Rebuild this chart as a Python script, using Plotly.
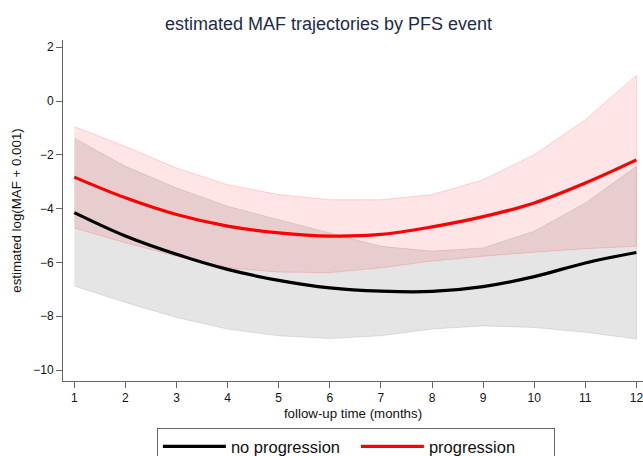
import plotly.graph_objects as go

months = [1, 2, 3, 4, 5, 6, 7, 8, 9, 10, 11, 12]

# no progression (PFS event = 0)
noprog_est = [-4.15, -5.02, -5.70, -6.26, -6.67, -6.95, -7.07, -7.08, -6.90, -6.53, -6.02, -5.63]
noprog_lo = [-6.88, -7.49, -8.05, -8.48, -8.73, -8.83, -8.73, -8.48, -8.36, -8.42, -8.60, -8.85]
noprog_hi = [-1.38, -2.43, -3.23, -3.91, -4.41, -4.90, -5.40, -5.58, -5.46, -4.84, -3.79, -2.43]

# progression (PFS event = 1)
prog_est = [-2.83, -3.60, -4.22, -4.65, -4.90, -5.02, -4.96, -4.68, -4.30, -3.79, -3.05, -2.19]
prog_lo = [-4.72, -5.27, -5.77, -6.20, -6.36, -6.38, -6.20, -5.95, -5.77, -5.62, -5.49, -5.40]
prog_hi = [-0.95, -1.69, -2.49, -3.11, -3.48, -3.67, -3.67, -3.48, -2.93, -2.00, -0.70, 0.96]

x_ticks = [1, 2, 3, 4, 5, 6, 7, 8, 9, 10, 11, 12]
y_ticks = [2, 0, -2, -4, -6, -8, -10]

FONT = "Liberation Sans, Arial, Helvetica, sans-serif"

fig = go.Figure()

def band(lo, hi, fill, edge):
    xs = months + months[::-1]
    ys = hi + lo[::-1]
    return go.Scatter(x=xs, y=ys, mode="lines", fill="toself", fillcolor=fill,
                      line=dict(color=edge, width=1), hoverinfo="skip", showlegend=False)

fig.add_trace(band(noprog_lo, noprog_hi, "rgba(0,0,0,0.10)", "rgba(0,0,0,0.10)"))
fig.add_trace(band(prog_lo, prog_hi, "rgba(255,0,0,0.10)", "rgba(255,0,0,0.15)"))

fig.add_trace(go.Scatter(x=months, y=noprog_est, mode="lines", name="no progression",
                         line=dict(color="black", width=3.2, shape="spline")))
fig.add_trace(go.Scatter(x=months, y=prog_est, mode="lines", name="progression",
                         line=dict(color="#ff0000", width=3.2, shape="spline")))

axis_common = dict(showgrid=False, zeroline=False, showline=True, linecolor="#666666",
                   linewidth=1, ticks="outside", ticklen=6, tickcolor="#666666",
                   tickfont=dict(family=FONT, size=12, color="#111111"))

fig.update_layout(
    width=643, height=456,
    margin=dict(l=63, r=0, t=40, b=75, autoexpand=False),
    paper_bgcolor="white", plot_bgcolor="white",
    font=dict(family=FONT, color="#111111"),
    title=dict(text="estimated MAF trajectories by PFS event", x=0.511, xanchor="center",
               xref="container", y=1 - 24 / 456, yref="container", yanchor="middle",
               font=dict(family=FONT, size=18, color="#1e2a4a")),
    xaxis=dict(range=[0.779, 12.129], tickvals=x_ticks, ticklabeloverflow="allow",
               title=dict(text="follow-up time (months)", font=dict(family=FONT, size=13.3),
                          standoff=4),
               automargin=False,
               **axis_common),
    yaxis=dict(range=[-10.409, 2.268], tickvals=y_ticks,
               title=dict(text="estimated log(MAF + 0.001)", font=dict(family=FONT, size=13.3),
                          standoff=8),
               automargin=False,
               **axis_common),
    legend=dict(orientation="h", x=0.505, xanchor="center", y=-0.138, yanchor="top",
                bordercolor="#666666", borderwidth=1, bgcolor="white",
                font=dict(family=FONT, size=16.5, color="#111111"),
                itemwidth=63, entrywidth=120, entrywidthmode="pixels",
                traceorder="normal"),
    showlegend=True,
)

fig.write_html("out.html")
